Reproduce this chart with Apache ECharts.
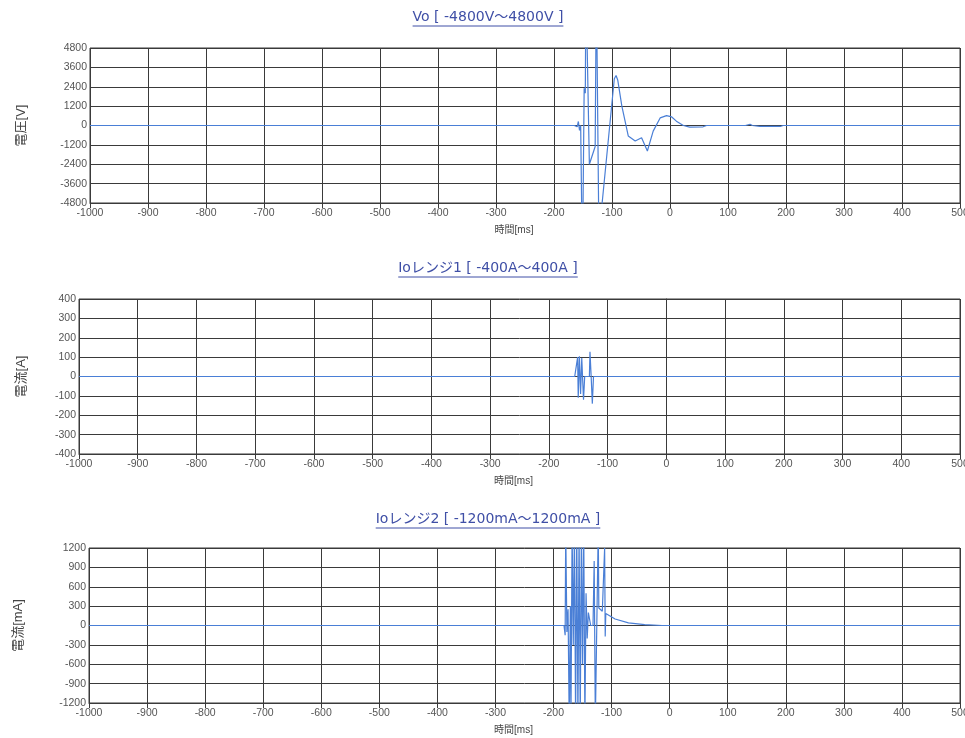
<!DOCTYPE html>
<html>
<head>
<meta charset="utf-8">
<script src="https://cdn.jsdelivr.net/npm/echarts@6/dist/echarts.min.js"></script>
<style>
html,body{margin:0;padding:0;background:#fff;}
#chart{width:965px;height:738px;}
</style>
</head>
<body>
<div id="chart"></div>
<script>
// ---- data ----
const chartTitles = ['Vo [ -4800V～4800V ]', 'Ioレンジ1 [ -400A～400A ]', 'Ioレンジ2 [ -1200mA～1200mA ]'];
const yNames = ['電圧[V]', '電流[A]', '電流[mA]'];
const xName = '時間[ms]';
const xMin = -1000, xMax = 500, xStep = 100;
const yRanges = [[-4800, 4800, 1200], [-400, 400, 100], [-1200, 1200, 300]];

const voTime  = [-1000, -165, -160, -158, -156, -154, -153, -151, -148, -146, -145, -142, -139, -129, -127, -122, -117, -99, -96, -93, -90, -83, -72, -60, -49, -39, -29, -17, -6, 3, 11, 23, 34, 57, 63, 130, 133, 138, 142, 155, 190, 195, 500];
const voValue = [0, 0, -80, 250, -300, 0, 0, -9000, 2300, 2000, 9000, 9000, -2400, -1300, 9000, -9000, -4800, 1800, 2900, 3100, 2800, 1200, -650, -960, -760, -1580, -350, 470, 615, 530, 270, 0, -100, -80, 0, 0, 100, 80, 0, -60, -60, 0, 0];

const io1Time  = [-1000, -156, -153, -151, -150, -148, -146, -144, -141, -139, -131, -130, -128, -126, -124, 500];
const io1Value = [0, 0, 0, 100, -110, 105, -90, 95, -120, 0, 0, 128, 0, -140, 0, 0];

const io2Time  = [-1000, -182, -180, -179, -177, -175, -173, -171, -170, -168, -166, -164, -162, -160, -158, -156, -154, -152, -150, -148, -146, -144, -142, -140, -136, -132, -130, -128, -125, -123, -122, -116, -113, -112, -111, -110, -94, -71, -43, -13, 500];
const io2Value = [0, 0, -150, 1500, -100, 250, -1500, 300, -1500, 1500, -300, 1500, -1500, 1500, -1500, 1500, -1500, 1500, -600, 1500, -1500, 500, -200, 200, 0, 0, 1000, -1500, -1500, 1500, 270, 220, 230, 1200, -170, 185, 100, 40, 15, 0, 0];

const seriesTimes = [voTime, io1Time, io2Time];
const seriesValues = [voValue, io1Value, io2Value];

// ---- layout ----
const FONT = '"Liberation Sans", "Noto Sans CJK JP", sans-serif';
const TFONT = '"DejaVu Sans", "Noto Sans CJK JP", sans-serif';
const grids = [
  {left: 90, top: 48, width: 870, height: 155},
  {left: 79, top: 299, width: 881, height: 155},
  {left: 89, top: 548, width: 871, height: 155}
];
const titleTops = [10, 261, 512];
const titleCenter = 488;
const titleFont = 14;
const yNameGaps = [62, 51, 64];
const xNamePad = [22, 12, 22];
const lineColor = '#4a7fd6';
const gridColor = '#3a3a3a';
const titleColor = '#3f4fa6';

function pairs(t, v) { return t.map((x, i) => [x, v[i]]); }
function plain(v) { return String(v); }

const ctx = document.createElement('canvas').getContext('2d');
ctx.font = titleFont + 'px ' + TFONT;

const option = {
  animation: false,
  backgroundColor: '#fff',
  title: chartTitles.map((t, i) => ({
    text: t, left: titleCenter, top: titleTops[i], textAlign: 'center', padding: 0,
    textStyle: {fontSize: titleFont, fontWeight: 'normal', color: titleColor, fontFamily: TFONT}
  })),
  graphic: chartTitles.map((t, i) => {
    const w = ctx.measureText(t).width;
    return {type: 'line', silent: true,
      shape: {x1: titleCenter - w / 2, y1: titleTops[i] + titleFont + 2, x2: titleCenter + w / 2, y2: titleTops[i] + titleFont + 2},
      style: {stroke: titleColor, lineWidth: 1}};
  }),
  grid: grids.map(g => Object.assign({show: true, borderColor: gridColor, borderWidth: 1, backgroundColor: '#fff', outerBoundsMode: 'none', containLabel: false}, g)),
  xAxis: grids.map((g, i) => ({
    gridIndex: i, type: 'value', min: xMin, max: xMax, interval: xStep,
    name: xName, nameLocation: 'middle', nameGap: 22,
    nameTextStyle: {fontSize: 10, color: '#444', fontFamily: FONT, padding: [0, xNamePad[i], 0, 0]},
    axisLine: {show: true, onZero: false, lineStyle: {color: gridColor, width: 1}},
    axisTick: {show: true, length: 5, lineStyle: {color: gridColor}},
    axisLabel: {fontSize: 10.5, color: '#555', margin: 5, fontFamily: FONT, formatter: plain, hideOverlap: false},
    splitLine: {show: true, lineStyle: {color: gridColor, width: 1}}
  })),
  yAxis: grids.map((g, i) => ({
    gridIndex: i, type: 'value', min: yRanges[i][0], max: yRanges[i][1], interval: yRanges[i][2],
    name: yNames[i], nameLocation: 'middle', nameGap: yNameGaps[i], nameRotate: 90,
    nameTextStyle: {fontSize: 13, color: '#444', fontFamily: FONT},
    axisLine: {show: true, lineStyle: {color: gridColor, width: 1}},
    axisTick: {show: true, length: 5, lineStyle: {color: gridColor}},
    axisLabel: {fontSize: 10.5, color: '#555', margin: 3, fontFamily: FONT, formatter: plain},
    splitLine: {show: true, lineStyle: {color: gridColor, width: 1}}
  })),
  series: seriesTimes.map((t, i) => ({
    type: 'line', xAxisIndex: i, yAxisIndex: i, showSymbol: false, clip: true,
    lineStyle: {color: lineColor, width: 1.2}, itemStyle: {color: lineColor},
    data: pairs(t, seriesValues[i])
  }))
};

const chart = echarts.init(document.getElementById('chart'), null, {renderer: 'canvas'});
chart.setOption(option);
</script>
</body>
</html>
